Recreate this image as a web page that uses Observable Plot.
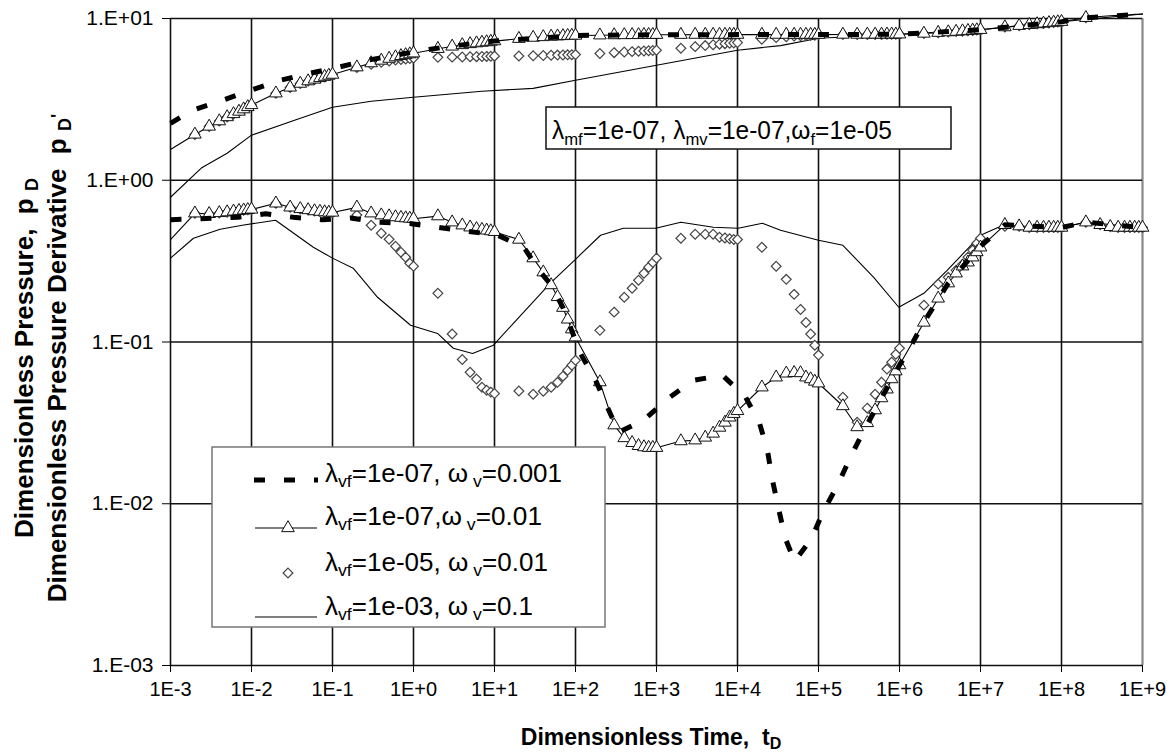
<!DOCTYPE html>
<html>
<head>
<meta charset="utf-8">
<script src="https://cdn.jsdelivr.net/npm/d3@7"></script>
<script src="https://cdn.jsdelivr.net/npm/@observablehq/plot@0.6"></script>
<style>
  html, body { margin: 0; padding: 0; background: #fff; }
  #chart svg { display: block; }
</style>
</head>
<body>
<div id="chart"></div>
<script>
// ---------- axis ticks ----------
const xTicks = [1e-3, 1e-2, 1e-1, 1e0, 1e1, 1e2, 1e3, 1e4, 1e5, 1e6, 1e7, 1e8, 1e9];
const xTickLabels = ["1E-3", "1E-2", "1E-1", "1E+0", "1E+1", "1E+2", "1E+3", "1E+4", "1E+5", "1E+6", "1E+7", "1E+8", "1E+9"];
const yTicks = [1e-3, 1e-2, 1e-1, 1e0, 1e1];
const yTickLabels = ["1.E-03", "1.E-02", "1.E-01", "1.E+00", "1.E+01"];

// ---------- sampling grid shared by the marker series ----------
const tGrid = [
  1e-3, 2e-3, 3e-3, 4e-3, 5e-3, 6e-3, 7e-3, 8e-3, 9e-3,
  1e-2, 2e-2, 3e-2, 4e-2, 5e-2, 6e-2, 7e-2, 8e-2, 9e-2,
  1e-1, 2e-1, 3e-1, 4e-1, 5e-1, 6e-1, 7e-1, 8e-1, 9e-1,
  1, 2, 3, 4, 5, 6, 7, 8, 9,
  10, 20, 30, 40, 50, 60, 70, 80, 90,
  100, 200, 300, 400, 500, 600, 700, 800, 900,
  1e3, 2e3, 3e3, 4e3, 5e3, 6e3, 7e3, 8e3, 9e3,
  1e4, 2e4, 3e4, 4e4, 5e4, 6e4, 7e4, 8e4, 9e4,
  1e5, 2e5, 3e5, 4e5, 5e5, 6e5, 7e5, 8e5, 9e5,
  1e6, 2e6, 3e6, 4e6, 5e6, 6e6, 7e6, 8e6, 9e6,
  1e7, 2e7, 3e7, 4e7, 5e7, 6e7, 7e7, 8e7, 9e7,
  1e8, 2e8, 3e8, 4e8, 5e8, 6e8, 7e8, 8e8, 9e8,
  1e9
];

// ---------- series 2: λvf=1e-07, ωv=0.01 (line + triangles) ----------
const s2Pressure = [
  1.55, 1.92, 2.15, 2.32, 2.46, 2.57, 2.66, 2.75, 2.84,
  2.92, 3.45, 3.75, 3.96, 4.10, 4.20, 4.29, 4.37, 4.44,
  4.50, 5.00, 5.30, 5.50, 5.65, 5.77, 5.87, 5.95, 6.02,
  6.10, 6.50, 6.72, 6.86, 6.96, 7.04, 7.10, 7.15, 7.20,
  7.25, 7.50, 7.62, 7.69, 7.74, 7.77, 7.80, 7.82, 7.84,
  7.85, 7.88, 7.90, 7.91, 7.92, 7.92, 7.93, 7.93, 7.93,
  7.94, 7.94, 7.95, 7.95, 7.95, 7.95, 7.95, 7.95, 7.95,
  7.95, 7.95, 7.95, 7.95, 7.95, 7.95, 7.95, 7.95, 7.95,
  7.95, 7.96, 7.96, 7.97, 7.97, 7.97, 7.98, 7.98, 7.98,
  7.99, 8.08, 8.17, 8.24, 8.30, 8.35, 8.40, 8.44, 8.48,
  8.52, 8.85, 9.02, 9.14, 9.24, 9.32, 9.39, 9.45, 9.50,
  9.55, 10.10, 10.30, 10.40, 10.45, 10.50, 10.55, 10.60, 10.62,
  10.65
];
const s2Derivative = [
  0.43, 0.625, 0.62, 0.628, 0.635, 0.642, 0.648, 0.652, 0.656,
  0.66, 0.72, 0.68, 0.665, 0.655, 0.645, 0.64, 0.635, 0.632,
  0.632, 0.68, 0.625, 0.608, 0.60, 0.592, 0.587, 0.583, 0.58,
  0.578, 0.60, 0.55, 0.527, 0.512, 0.50, 0.495, 0.49, 0.485,
  0.48, 0.43, 0.33, 0.27, 0.225, 0.19, 0.163, 0.138, 0.12,
  0.107, 0.0565, 0.0306, 0.0255, 0.0238, 0.0228, 0.0224, 0.0222, 0.0222,
  0.0222, 0.0244, 0.0247, 0.0257, 0.0272, 0.0296, 0.0318, 0.0342, 0.036,
  0.0375, 0.0525, 0.0605, 0.064, 0.0645, 0.0643, 0.0605, 0.059, 0.057,
  0.0556, 0.0402, 0.0298, 0.0316, 0.0379, 0.045, 0.051, 0.059, 0.066,
  0.072, 0.132, 0.186, 0.231, 0.266, 0.294, 0.311, 0.334, 0.36,
  0.385, 0.53, 0.52, 0.51, 0.51, 0.51, 0.51, 0.51, 0.51,
  0.51, 0.55, 0.53, 0.515, 0.51, 0.51, 0.51, 0.51, 0.51,
  0.51
];

// ---------- series 3: λvf=1e-05, ωv=0.01 (diamonds) ----------
const s3Pressure = [
  1.55, 1.92, 2.15, 2.32, 2.46, 2.57, 2.66, 2.75, 2.84,
  2.92, 3.45, 3.75, 3.96, 4.10, 4.20, 4.29, 4.37, 4.44,
  4.50, 4.98, 5.22, 5.36, 5.46, 5.53, 5.58, 5.62, 5.66,
  5.70, 5.75, 5.77, 5.78, 5.80, 5.81, 5.82, 5.83, 5.84,
  5.85, 5.86, 5.88, 5.90, 5.92, 5.94, 5.95, 5.96, 5.97,
  5.98, 6.08, 6.15, 6.20, 6.24, 6.27, 6.30, 6.32, 6.34,
  6.36, 6.55, 6.70, 6.80, 6.88, 6.94, 6.99, 7.03, 7.06,
  7.10, 7.45, 7.62, 7.72, 7.78, 7.82, 7.85, 7.87, 7.88,
  7.95, 7.96, 7.96, 7.97, 7.97, 7.97, 7.98, 7.98, 7.98,
  7.99, 8.08, 8.17, 8.24, 8.30, 8.35, 8.40, 8.44, 8.48,
  8.52, 8.85, 9.02, 9.14, 9.24, 9.32, 9.39, 9.45, 9.50,
  9.55, 10.10, 10.30, 10.40, 10.45, 10.50, 10.55, 10.60, 10.62,
  10.65
];
const s3Derivative = [
  0.43, 0.625, 0.62, 0.628, 0.635, 0.642, 0.648, 0.652, 0.656,
  0.66, 0.72, 0.68, 0.665, 0.655, 0.645, 0.64, 0.635, 0.632,
  0.63, 0.61, 0.527, 0.47, 0.432, 0.391, 0.359, 0.334, 0.307,
  0.294, 0.20, 0.112, 0.078, 0.065, 0.059, 0.0525, 0.0503, 0.049,
  0.048, 0.0498, 0.0475, 0.0496, 0.0525, 0.0563, 0.0615, 0.0669, 0.0718,
  0.077, 0.118, 0.153, 0.189, 0.215, 0.241, 0.266, 0.29, 0.31,
  0.33, 0.438, 0.464, 0.464, 0.464, 0.444, 0.44, 0.435, 0.43,
  0.43, 0.385, 0.294, 0.244, 0.197, 0.159, 0.132, 0.112, 0.0955,
  0.083, 0.0455, 0.0319, 0.039, 0.0475, 0.0564, 0.068, 0.075, 0.084,
  0.0915, 0.169, 0.228, 0.251, 0.278, 0.302, 0.334, 0.37, 0.408,
  0.438, 0.52, 0.52, 0.51, 0.51, 0.51, 0.51, 0.51, 0.51,
  0.51, 0.55, 0.53, 0.515, 0.51, 0.51, 0.51, 0.51, 0.51,
  0.51
];

// ---------- series 1: λvf=1e-07, ωv=0.001 (thick dashed) ----------
const s1PressureT = [1e-3, 1.87e-3, 4.4e-3, 9.7e-3, 2.28e-2, 5.3e-2, 0.119, 0.27, 0.6, 1.3, 3, 10, 100, 1e3, 1e4, 1e5, 1e6, 1e7, 1e8, 2e8, 1e9];
const s1Pressure  = [2.25, 2.71, 3.12, 3.6, 4.15, 4.59, 5.0, 5.52, 5.93, 6.36, 6.75, 7.25, 7.85, 7.94, 7.95, 7.95, 7.99, 8.52, 9.55, 10.1, 10.65];
const s1DerivT = [1e-3, 6.8e-3, 1.5e-2, 3.3e-2, 7.5e-2, 0.167, 0.37, 0.9, 11, 23, 37, 50, 70, 115, 177, 248, 340, 690, 1400, 2860, 6530, 12600, 18700, 23400, 27000, 32000, 39000, 50600, 82000, 115000, 172000, 248000, 349000, 5e5, 1e6, 1.3e6, 1.9e6, 4e6, 1e7, 2e7, 1e8, 2e8, 1e9];
const s1Deriv  = [0.57, 0.59, 0.62, 0.59, 0.57, 0.585, 0.55, 0.54, 0.457, 0.385, 0.27, 0.225, 0.163, 0.085, 0.058, 0.0395, 0.0277, 0.0328, 0.0449, 0.058, 0.0623, 0.0455, 0.0315, 0.0214, 0.014, 0.0094, 0.0061, 0.0044, 0.0061, 0.009, 0.013, 0.0194, 0.0273, 0.038, 0.072, 0.089, 0.127, 0.231, 0.39, 0.53, 0.51, 0.55, 0.51];

// ---------- series 4: λvf=1e-03, ωv=0.1 (thin line) ----------
const s4PressureT = [1e-3, 2.4e-3, 5e-3, 1e-2, 3.4e-2, 0.1, 0.3, 1, 7, 30, 100, 1e3, 1e4, 3.4e4, 1e5, 1e6, 1e7, 1e8, 1e9];
const s4Pressure  = [0.785, 1.19, 1.47, 1.9, 2.35, 2.83, 3.08, 3.26, 3.55, 3.7, 4.15, 5.14, 6.37, 6.8, 7.55, 7.99, 8.52, 9.55, 10.65];
const s4DerivT = [1e-3, 1.92e-3, 4.1e-3, 7.7e-3, 1.98e-2, 5.8e-2, 0.1, 0.18, 0.36, 0.92, 1.98, 3.1, 5.35, 9.7, 17, 49, 106, 204, 390, 975, 2000, 5040, 10200, 20300, 34000, 1e5, 2e5, 4.8e5, 9.8e5, 2e6, 3.9e6, 1e7, 1.9e7, 5e7, 1e8, 2e8, 1e9];
const s4Deriv  = [0.33, 0.438, 0.498, 0.527, 0.566, 0.385, 0.33, 0.286, 0.189, 0.127, 0.113, 0.0915, 0.085, 0.0955, 0.13, 0.231, 0.334, 0.457, 0.505, 0.505, 0.55, 0.512, 0.505, 0.542, 0.491, 0.426, 0.396, 0.251, 0.164, 0.2, 0.278, 0.457, 0.527, 0.51, 0.51, 0.55, 0.51];

// ---------- texts ----------
const legendRows = [
  [["λ"], ["vf", "sub"], ["=1e-07, ω"], [" v", "sub"], ["=0.001"]],
  [["λ"], ["vf", "sub"], ["=1e-07,ω"], [" v", "sub"], ["=0.01"]],
  [["λ"], ["vf", "sub"], ["=1e-05, ω"], [" v", "sub"], ["=0.01"]],
  [["λ"], ["vf", "sub"], ["=1e-03, ω"], [" v", "sub"], ["=0.1"]]
];
const noteText = [["λ"], ["mf", "sub"], ["=1e-07, λ"], ["mv", "sub"], ["=1e-07,ω"], ["f", "sub"], ["=1e-05"]];
const xTitle = [["Dimensionless Time,  t"], ["D", "sub"]];
const yTitle1 = [["Dimensionless Pressure,  p "], ["D", "sub"]];
const yTitle2 = [["Dimensionless Pressure Derivative  p "], ["D", "sub"], ["'", "sup"]];

// ---------- build tables ----------
const grid = tGrid.map((t, i) => ({t, p2: s2Pressure[i], d2: s2Derivative[i], p3: s3Pressure[i], d3: s3Derivative[i]}));
const s1P = s1PressureT.map((t, i) => ({t, v: s1Pressure[i]}));
const s1D = s1DerivT.map((t, i) => ({t, v: s1Deriv[i]}));
const s4P = s4PressureT.map((t, i) => ({t, v: s4Pressure[i]}));
const s4D = s4DerivT.map((t, i) => ({t, v: s4Deriv[i]}));
const markP = grid.filter(d => d.t >= 2e-3 && d.t <= 2e8);
const markD = grid.filter(d => d.t >= 2e-3);

const FONT = '"Liberation Sans", Arial, Helvetica, sans-serif';
const xLab = new Map(xTicks.map((d, i) => [d, xTickLabels[i]]));
const yLab = new Map(yTicks.map((d, i) => [d, yTickLabels[i]]));

const thin = {stroke: "#000", strokeWidth: 1.1};
const dashed = {stroke: "#000", strokeWidth: 5, strokeDasharray: "11,19", strokeLinecap: "butt"};
const tri = {symbol: "triangle", r: 4.7, fill: "#fff", stroke: "#111", strokeWidth: 1};
const dia = {symbol: "diamond2", r: 4.4, fill: "#fff", stroke: "#444", strokeWidth: 1.2};

const plot = Plot.plot({
  width: 1174,
  height: 753,
  marginLeft: 170,
  marginRight: 32,
  marginTop: 18,
  marginBottom: 88,
  style: {fontFamily: FONT, fontSize: "20px", background: "#fff", color: "#000", overflow: "visible"},
  x: {type: "log", domain: [1e-3, 1e9]},
  y: {type: "log", domain: [1e-3, 1e1]},
  marks: [
    Plot.gridX(xTicks.slice(0, -1), {stroke: "#111", strokeOpacity: 1, strokeWidth: 1.6}),
    Plot.gridX([1e9], {stroke: "#888", strokeOpacity: 1, strokeWidth: 2.2}),
    Plot.gridY(yTicks, {stroke: "#111", strokeOpacity: 1, strokeWidth: 1.6}),
    Plot.axisX(xTicks, {tickFormat: d => xLab.get(d), tickSize: 7, tickPadding: 9, fontSize: 20, label: null, stroke: "#000"}),
    Plot.axisY(yTicks, {tickFormat: d => yLab.get(d), tickSize: 8, tickPadding: 9, fontSize: 21, label: null, stroke: "#000"}),
    // series 4 (thin line)
    Plot.line(s4P, {x: "t", y: "v", ...thin}),
    Plot.line(s4D, {x: "t", y: "v", ...thin}),
    // series 2 line
    Plot.line(grid, {x: "t", y: "p2", ...thin}),
    Plot.line(grid, {x: "t", y: "d2", ...thin}),
    // series 3 diamonds
    Plot.dot(markP, {x: "t", y: "p3", ...dia}),
    Plot.dot(markD, {x: "t", y: "d3", ...dia}),
    // series 2 triangles
    Plot.dot(markP, {x: "t", y: "p2", ...tri}),
    Plot.dot(markD, {x: "t", y: "d2", ...tri}),
    // series 1 thick dashed
    Plot.line(s1P, {x: "t", y: "v", ...dashed}),
    Plot.line(s1D, {x: "t", y: "v", ...dashed})
  ]
});
document.getElementById("chart").appendChild(plot);

const svg = d3.select(plot);
// tick-label sizes as in the reference
svg.selectAll('g[aria-label="x-axis tick label"] text').style("font-size", "20px");
svg.selectAll('g[aria-label="y-axis tick label"] text').style("font-size", "21px");

// ---------- rich text helper ----------
function rich(parent, x, y, parts, o) {
  const t = parent.append("text")
    .attr("transform", `translate(${x},${y})` + (o.rotate ? ` rotate(${o.rotate})` : ""))
    .attr("font-family", FONT)
    .attr("font-weight", o.weight || "normal")
    .attr("fill", "#000")
    .attr("text-anchor", o.anchor || "start")
    .style("font-size", o.size + "px")
    .style("white-space", "pre");
  let shift = 0;
  for (const [s, kind] of parts) {
    const target = kind === "sub" ? o.subDy : kind === "sup" ? -o.supDy : 0;
    const ts = t.append("tspan").text(s).attr("dy", target - shift);
    if (kind) ts.style("font-size", o.subSize + "px");
    shift = target;
  }
  if (o.length) t.attr("textLength", o.length).attr("lengthAdjust", "spacingAndGlyphs");
  return t;
}

const g = svg.append("g");

// annotation box
g.append("rect").attr("x", 546).attr("y", 107).attr("width", 405).attr("height", 42)
  .attr("fill", "#fff").attr("stroke", "#111").attr("stroke-width", 1.5);
rich(g, 552, 139, noteText, {size: 25, subSize: 17, subDy: 6, length: 340});

// legend box
g.append("rect").attr("x", 212).attr("y", 447).attr("width", 393).attr("height", 180)
  .attr("fill", "#fff").attr("stroke", "#777").attr("stroke-width", 1.5);
const rowBase = [482, 525, 571, 615];
const rowLen = [237, 217, 223, 208];
legendRows.forEach((parts, i) => rich(g, 325, rowBase[i], parts, {size: 25, subSize: 17, subDy: 5, length: rowLen[i]}));
// legend samples
g.append("line").attr("x1", 254).attr("x2", 318).attr("y1", 480).attr("y2", 480)
  .attr("stroke", "#000").attr("stroke-width", 5).attr("stroke-dasharray", "11,19");
g.append("line").attr("x1", 255).attr("x2", 317).attr("y1", 528).attr("y2", 528)
  .attr("stroke", "#000").attr("stroke-width", 1.1);
g.append("path").attr("transform", "translate(288,528)")
  .attr("d", d3.symbol(d3.symbolTriangle, Math.PI * 4.7 * 4.7)())
  .attr("fill", "#fff").attr("stroke", "#111").attr("stroke-width", 1);
g.append("path").attr("transform", "translate(288,573)")
  .attr("d", d3.symbol(d3.symbolDiamond2, Math.PI * 4.4 * 4.4)())
  .attr("fill", "#fff").attr("stroke", "#444").attr("stroke-width", 1.2);
g.append("line").attr("x1", 255).attr("x2", 317).attr("y1", 617).attr("y2", 617)
  .attr("stroke", "#000").attr("stroke-width", 1.1);

// axis titles
rich(g, 651, 745, xTitle, {size: 23, subSize: 16, subDy: 4, weight: "bold", anchor: "middle"});
rich(g, 33, 358, yTitle1, {size: 26, subSize: 18, subDy: 5, weight: "bold", anchor: "middle", rotate: -90});
rich(g, 66, 358, yTitle2, {size: 26, subSize: 18, subDy: 5, supDy: 2, weight: "bold", anchor: "middle", rotate: -90});
</script>
</body>
</html>
